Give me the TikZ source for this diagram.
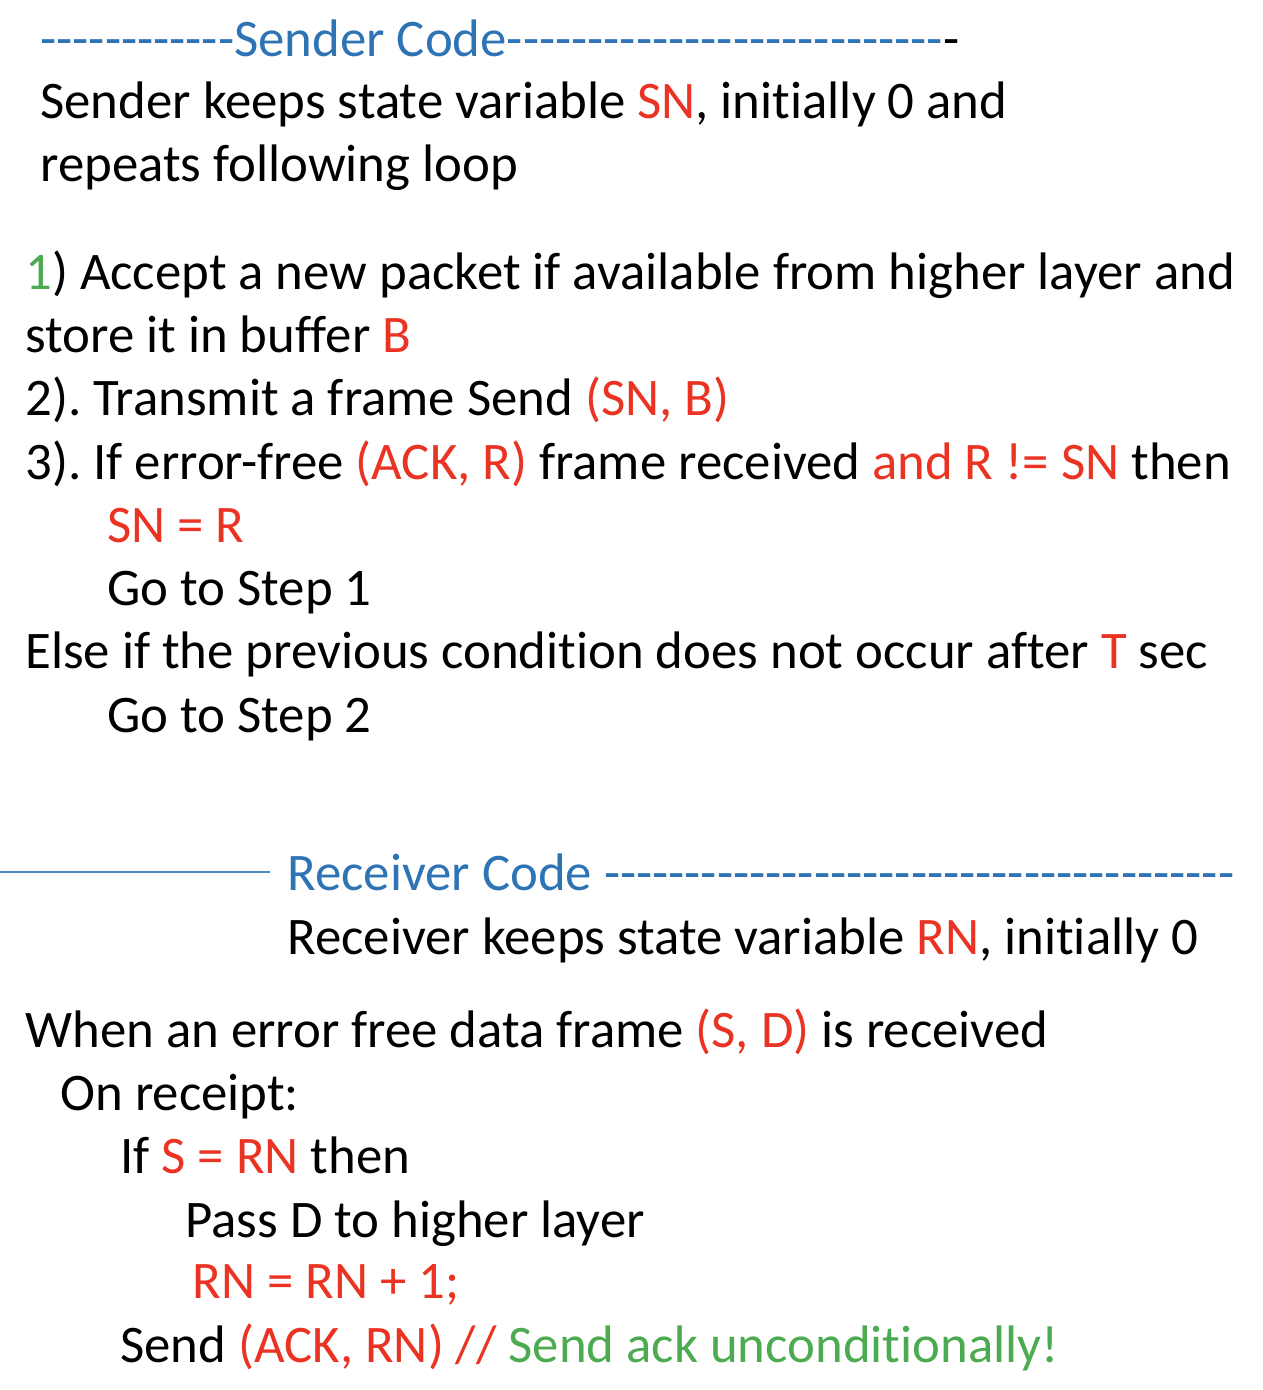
\documentclass[tikz,border=0pt]{standalone}
\usepackage{fontspec}
\setmainfont{Carlito}[Ligatures={TeXOff,NoCommon}]
\frenchspacing
\definecolor{hdblue}{RGB}{46,116,181}
\definecolor{varred}{RGB}{234,51,35}
\definecolor{okgreen}{RGB}{76,170,80}
\newcommand{\rd}[1]{\textcolor{varred}{#1}}
\begin{document}
\begin{tikzpicture}[x=0.5pt,y=-0.5pt,
	txt/.style={anchor=base west,inner sep=0pt,font=\fontsize{26.4}{30}\selectfont}]
	\useasboundingbox (0,0) rectangle (1262,1390);
	% sender
	\node[txt] (hdrS) at (40,57) {\textcolor{hdblue}{------------Sender Code---------------------------}-};
	\node[txt] (sLineA) at (40,119) {Sender keeps state variable \rd{SN}, initially 0 and};
	\node[txt] (sLineB) at (40,182) {repeats following loop};
	\node[txt] (stepA) at (25,290) {\textcolor{okgreen}{1}) Accept a new packet if available from higher layer and};
	\node[txt] (stepAb) at (25,352) {store it in buffer \rd{B}};
	\node[txt] (stepB) at (25,415) {2). Transmit a frame Send \rd{(SN, B)}};
	\node[txt] (stepC) at (25,479) {3). If error-free \rd{(ACK, R)} frame received \rd{and R != SN} then};
	\node[txt] (setSN) at (107,542) {\rd{SN = R}};
	\node[txt] (goA) at (107,605) {Go to Step 1};
	\node[txt] (elseT) at (25,668) {Else if the previous condition does not occur after \rd{T} sec};
	\node[txt] (goB) at (107,732) {Go to Step 2};
	% receiver
	\coordinate (rl0) at (0,872);
	\coordinate (rl1) at (270,872);
	\draw[hdblue!85,line width=1pt] (rl0) -- (rl1);
	\node[txt] (hdrR) at (287,890) {\textcolor{hdblue}{Receiver Code ---------------------------------------}};
	\node[txt] (rLine) at (287,954) {Receiver keeps state variable \rd{RN}, initially 0};
	\node[txt] (rWhen) at (25,1047) {When an error free data frame \rd{(S, D)} is received};
	\node[txt] (rOn) at (60,1110) {On receipt:};
	\node[txt] (rIf) at (120,1173) {If \rd{S = RN} then};
	\node[txt] (rPass) at (185,1237) {Pass D to higher layer};
	\node[txt] (rInc) at (192,1298) {\rd{RN = RN + 1;}};
	\node[txt] (rSend) at (120,1362) {Send \rd{(ACK, RN) //} \textcolor{okgreen}{Send ack unconditionally!}};
\end{tikzpicture}
\end{document}
